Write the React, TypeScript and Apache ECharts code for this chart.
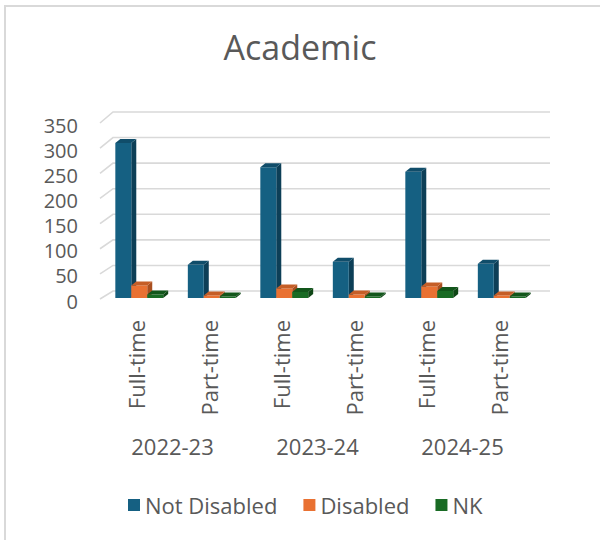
import React, { useEffect, useRef } from "react";
import * as echarts from "echarts";

const categories = ["Full-time", "Part-time", "Full-time", "Part-time", "Full-time", "Part-time"];
const years = ["2022-23", "2023-24", "2024-25"];
const notDisabled = [308, 66, 260, 72, 251, 68];
const disabled = [25, 5, 19, 7, 23, 5];
const nk = [7, 3, 12, 3, 14, 3];
const yTicks = [0, 50, 100, 150, 200, 250, 300, 350];

const FONT = "'Open Sans', sans-serif";
const TXT = "#595959";
const DX = 5;
const DY = -4;

function bar3D(idx: number, front: string, side: string, top: string) {
  return (params: any, api: any) => {
    const cat = api.value(0);
    const val = api.value(1);
    const base = api.coord([cat, 0]);
    const tp = api.coord([cat, val]);
    const catW = api.size([1, 0])[0];
    const bw = catW * 0.22;
    const x0 = base[0] + 3 + (idx - 1.5) * bw;
    const by = base[1] - 3;
    const ty = Math.min(tp[1] - 3, by - 1);
    return {
      type: "group",
      children: [
        {
          type: "polygon",
          shape: { points: [[x0 + bw, ty], [x0 + bw + DX, ty + DY], [x0 + bw + DX, by + DY], [x0 + bw, by]] },
          style: { fill: side },
        },
        {
          type: "rect",
          shape: { x: x0, y: ty, width: bw, height: by - ty },
          style: { fill: front },
        },
        {
          type: "polygon",
          shape: { points: [[x0, ty], [x0 + DX, ty + DY], [x0 + bw + DX, ty + DY], [x0 + bw, ty]] },
          style: { fill: top },
        },
      ],
    };
  };
}

export default function App() {
  const ref = useRef<HTMLDivElement>(null);
  useEffect(() => {
    const chart = echarts.init(ref.current!, undefined, { renderer: "svg" });
    const mk = (arr: number[]) => arr.map((v, i) => [i, v]);
    chart.setOption({
      animation: false,
      backgroundColor: "#ffffff",
      graphic: [
        {
          type: "rect",
          shape: { x: 5, y: 6, width: 700, height: 700 },
          style: { fill: "none", stroke: "#d9d9d9", lineWidth: 2 },
          z: -10,
        },
      ],
      title: {
        text: "Academic",
        left: "center",
        top: 25,
        textStyle: { fontFamily: FONT, fontSize: 34, fontWeight: "normal", color: TXT },
      },
      legend: {
        left: 123,
        top: 489,
        icon: "rect",
        itemWidth: 12,
        itemHeight: 12,
        itemGap: 26,
        data: ["Not Disabled", "Disabled", "NK"],
        textStyle: { fontFamily: FONT, fontSize: 22, color: TXT },
      },
      grid: { left: 100, right: 65, top: 125, bottom: 239 },
      xAxis: [
        {
          type: "category",
          data: categories,
          axisLine: { show: false },
          axisTick: { show: false },
          axisLabel: { rotate: 90, margin: 19, interval: 0, fontFamily: FONT, fontSize: 22, color: TXT },
        },
        {
          type: "category",
          data: years,
          position: "bottom",
          axisLine: { show: false },
          axisTick: { show: false },
          axisLabel: { margin: 134, interval: 0, fontFamily: FONT, fontSize: 22, color: TXT },
        },
      ],
      yAxis: {
        type: "value",
        min: 0,
        max: 350,
        interval: 50,
        axisLine: { show: false },
        axisTick: { show: false },
        splitLine: { show: false },
        axisLabel: { margin: 22, fontFamily: FONT, fontSize: 20, lineHeight: 20, color: TXT },
      },
      series: [
        {
          name: "grid",
          type: "custom",
          silent: true,
          z: 0,
          data: yTicks.map((v) => [0, v]),
          renderItem: (params: any, api: any) => {
            const v = api.value(1);
            const y = api.coord([0, v])[1];
            const cs = params.coordSys;
            const yb = y - 10 - (v / 350) * 3;
            return {
              type: "polyline",
              shape: { points: [[cs.x, y - 2], [cs.x + 13, yb], [cs.x + cs.width + 15, yb]] },
              style: { stroke: "#d9d9d9", lineWidth: 1.6, fill: "none" },
            };
          },
        },
        {
          name: "Not Disabled",
          type: "custom",
          z: 2,
          itemStyle: { color: "#156082" },
          data: mk(notDisabled),
          renderItem: bar3D(0, "#156082", "#0d3f57", "#104d6a"),
        },
        {
          name: "Disabled",
          type: "custom",
          z: 3,
          itemStyle: { color: "#E97132" },
          data: mk(disabled),
          renderItem: bar3D(1, "#E97132", "#a94f20", "#c55e27"),
        },
        {
          name: "NK",
          type: "custom",
          z: 4,
          itemStyle: { color: "#196B24" },
          data: mk(nk),
          renderItem: bar3D(2, "#196B24", "#0f4616", "#12561b"),
        },
      ],
    });
    return () => chart.dispose();
  }, []);
  return <div ref={ref} style={{ position: "fixed", left: 0, top: 0, width: 600, height: 540 }} />;
}
